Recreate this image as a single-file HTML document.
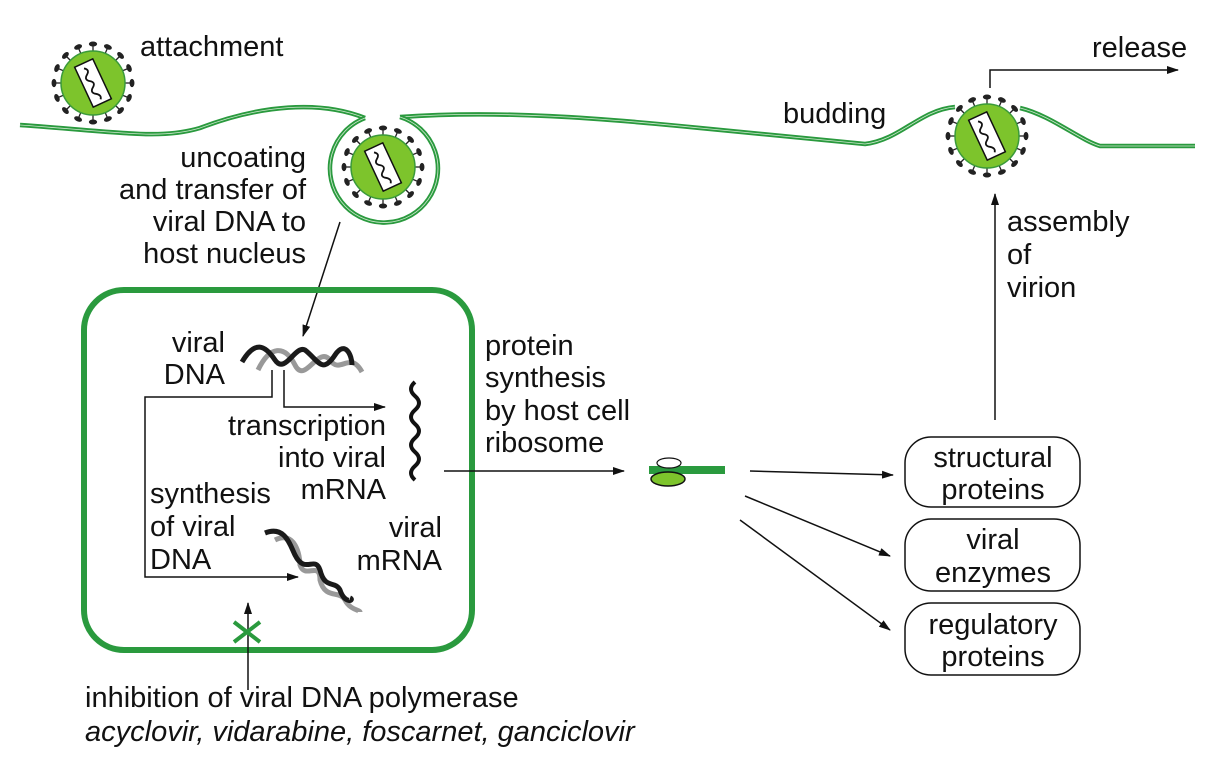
<!DOCTYPE html>
<html><head><meta charset="utf-8"><style>
body{margin:0;background:#fff}
svg{display:block}
text{font-family:"Liberation Sans",sans-serif;font-size:29px;fill:#111}
</style></head><body>
<svg width="1219" height="764" viewBox="0 0 1219 764">
<defs>
<marker id="ah" markerWidth="12" markerHeight="8" refX="11" refY="4" orient="auto" markerUnits="userSpaceOnUse"><path d="M0,0 L12,4 L0,8 Z" fill="#111"/></marker>
<g id="virus">
<g id="spikes" stroke="#222" stroke-width="1.3" fill="#222"></g>
<circle r="32" fill="#7dc42c" stroke="#3a9a3a" stroke-width="1.5"/>
<g transform="rotate(-25)"><rect x="-10" y="-22" width="20" height="44" fill="#fff" stroke="#111" stroke-width="1.5"/>
<path d="M-2,-17 q5,3.5 0,7 q-5,3.5 0,7 q5,3.5 0,7 q-5,3.5 0,7 q5,3.5 2,7" fill="none" stroke="#111" stroke-width="1.8"/></g>
</g>
</defs>

<g fill="none">
<path d="M20,125 C120,132 160,140 200,128 C260,105 320,100 365,118 M400,117 C500,110 600,118 700,128 C780,136 840,142 865,144 C900,140 920,110 955,107 M1020,108 C1050,115 1080,140 1100,146 L1195,146" stroke="#2a9a3e" stroke-width="4.5"/>
<path d="M20,125 C120,132 160,140 200,128 C260,105 320,100 365,118 M400,117 C500,110 600,118 700,128 C780,136 840,142 865,144 C900,140 920,110 955,107 M1020,108 C1050,115 1080,140 1100,146 L1195,146" stroke="#cfe8cf" stroke-width="0.8"/>
<path d="M365,118 A54,54 0 1 0 400,117" stroke="#2a9a3e" stroke-width="4.5"/>
<path d="M365,118 A54,54 0 1 0 400,117" stroke="#cfe8cf" stroke-width="0.8"/>
</g>

<use href="#virus" x="93" y="83"/>
<use href="#virus" x="383" y="167"/>
<use href="#virus" x="987" y="136"/>

<text x="140" y="56">attachment</text>
<text x="306" y="167" text-anchor="end"><tspan x="306">uncoating</tspan><tspan x="306" dy="32">and transfer of</tspan><tspan x="306" dy="32">viral DNA to</tspan><tspan x="306" dy="32">host nucleus</tspan></text>
<text x="783" y="123">budding</text>
<text x="1092" y="57">release</text>
<path d="M990,88 V70 H1178" fill="none" stroke="#111" stroke-width="1.5" marker-end="url(#ah)"/>
<path d="M995,420 V194" stroke="#111" stroke-width="1.5" marker-end="url(#ah)"/>
<text x="1007" y="231"><tspan x="1007">assembly</tspan><tspan x="1007" dy="33">of</tspan><tspan x="1007" dy="33">virion</tspan></text>

<path d="M340,222 L303,336" stroke="#111" stroke-width="1.5" marker-end="url(#ah)"/>

<rect x="84" y="290" width="388" height="360" rx="40" fill="none" stroke="#2a9a3e" stroke-width="6"/>

<g fill="none" stroke-width="5">
<path d="M258,370 C270,345 285,345 295,365 C305,385 318,345 330,360 C340,375 350,350 362,372" stroke="#999"/>
<path d="M242,362 C255,340 265,345 275,360 C285,375 295,345 305,350 C318,360 322,375 335,355 C345,340 352,355 352,365" stroke="#1a1a1a"/>
</g>
<text x="225" y="352" text-anchor="end"><tspan x="225">viral</tspan><tspan x="225" dy="32">DNA</tspan></text>

<path d="M272,370 V397 H145 V577 H298" fill="none" stroke="#111" stroke-width="1.5" marker-end="url(#ah)"/>
<path d="M284,370 V407 H385" fill="none" stroke="#111" stroke-width="1.5" marker-end="url(#ah)"/>

<path d="M415,382 q-8,7 0,14 q8,7 0,14 q-8,7 0,14 q8,7 0,14 q-8,7 0,14 q8,7 0,14 q-8,7 0,14" fill="none" stroke="#111" stroke-width="4"/>

<text x="386" y="435" text-anchor="end"><tspan x="386">transcription</tspan><tspan x="386" dy="32">into viral</tspan><tspan x="386" dy="32">mRNA</tspan></text>
<text x="150" y="503"><tspan x="150">synthesis</tspan><tspan x="150" dy="33">of viral</tspan><tspan x="150" dy="33">DNA</tspan></text>
<text x="442" y="537" text-anchor="end"><tspan x="442">viral</tspan><tspan x="442" dy="33">mRNA</tspan></text>

<g fill="none" stroke-width="5">
<path d="M275,540 C295,530 300,555 300,565 C305,580 320,560 320,580 C325,600 340,590 345,600 C350,610 360,610 360,612" stroke="#999"/>
<path d="M265,533 C285,525 290,545 295,555 C305,575 315,555 320,570 C325,590 335,580 340,590 C345,605 355,600 350,598" stroke="#1a1a1a"/>
</g>

<path d="M248,690 V603" stroke="#111" stroke-width="1.5" marker-end="url(#ah)"/>
<path d="M234,622 L260,642 M260,622 L234,642" stroke="#2a9a3e" stroke-width="4"/>
<text x="85" y="707">inhibition of viral DNA polymerase</text>
<text x="85" y="741" font-style="italic">acyclovir, vidarabine, foscarnet, ganciclovir</text>

<text x="485" y="355"><tspan x="485">protein</tspan><tspan x="485" dy="32">synthesis</tspan><tspan x="485" dy="33">by host cell</tspan><tspan x="485" dy="32">ribosome</tspan></text>
<path d="M444,471 H624" stroke="#111" stroke-width="1.5" marker-end="url(#ah)"/>

<g>
<rect x="649" y="466" width="76" height="8" fill="#2a9a3e"/>
<ellipse cx="669" cy="463" rx="12" ry="5" fill="#fff" stroke="#111" stroke-width="1.2"/>
<ellipse cx="668" cy="479" rx="17" ry="7" fill="#7dc42c" stroke="#111" stroke-width="1.5"/>
</g>

<path d="M750,471 L893,475" stroke="#111" stroke-width="1.5" marker-end="url(#ah)"/>
<path d="M745,496 L890,556" stroke="#111" stroke-width="1.5" marker-end="url(#ah)"/>
<path d="M740,520 L890,630" stroke="#111" stroke-width="1.5" marker-end="url(#ah)"/>

<rect x="905" y="437" width="175" height="70" rx="26" fill="#fff" stroke="#111" stroke-width="1.5"/>
<text x="993" y="467" text-anchor="middle"><tspan x="993">structural</tspan><tspan x="993" dy="32">proteins</tspan></text>
<rect x="905" y="519" width="175" height="72" rx="26" fill="#fff" stroke="#111" stroke-width="1.5"/>
<text x="993" y="549" text-anchor="middle"><tspan x="993">viral</tspan><tspan x="993" dy="33">enzymes</tspan></text>
<rect x="905" y="603" width="175" height="72" rx="26" fill="#fff" stroke="#111" stroke-width="1.5"/>
<text x="993" y="634" text-anchor="middle"><tspan x="993">regulatory</tspan><tspan x="993" dy="32">proteins</tspan></text>
</svg>
<script>
var g=document.getElementById('spikes');
for(var i=0;i<16;i++){var a=i*Math.PI/8;var c=Math.cos(a),s=Math.sin(a);
var l=document.createElementNS('http://www.w3.org/2000/svg','line');
l.setAttribute('x1',32*c);l.setAttribute('y1',32*s);l.setAttribute('x2',38*c);l.setAttribute('y2',38*s);
g.appendChild(l);
var e=document.createElementNS('http://www.w3.org/2000/svg','ellipse');
e.setAttribute('cx',39*c);e.setAttribute('cy',39*s);e.setAttribute('rx',3.5);e.setAttribute('ry',1.8);
e.setAttribute('transform','rotate('+(i*22.5+90)+' '+39*c+' '+39*s+')');
g.appendChild(e);}
</script>
</body></html>
